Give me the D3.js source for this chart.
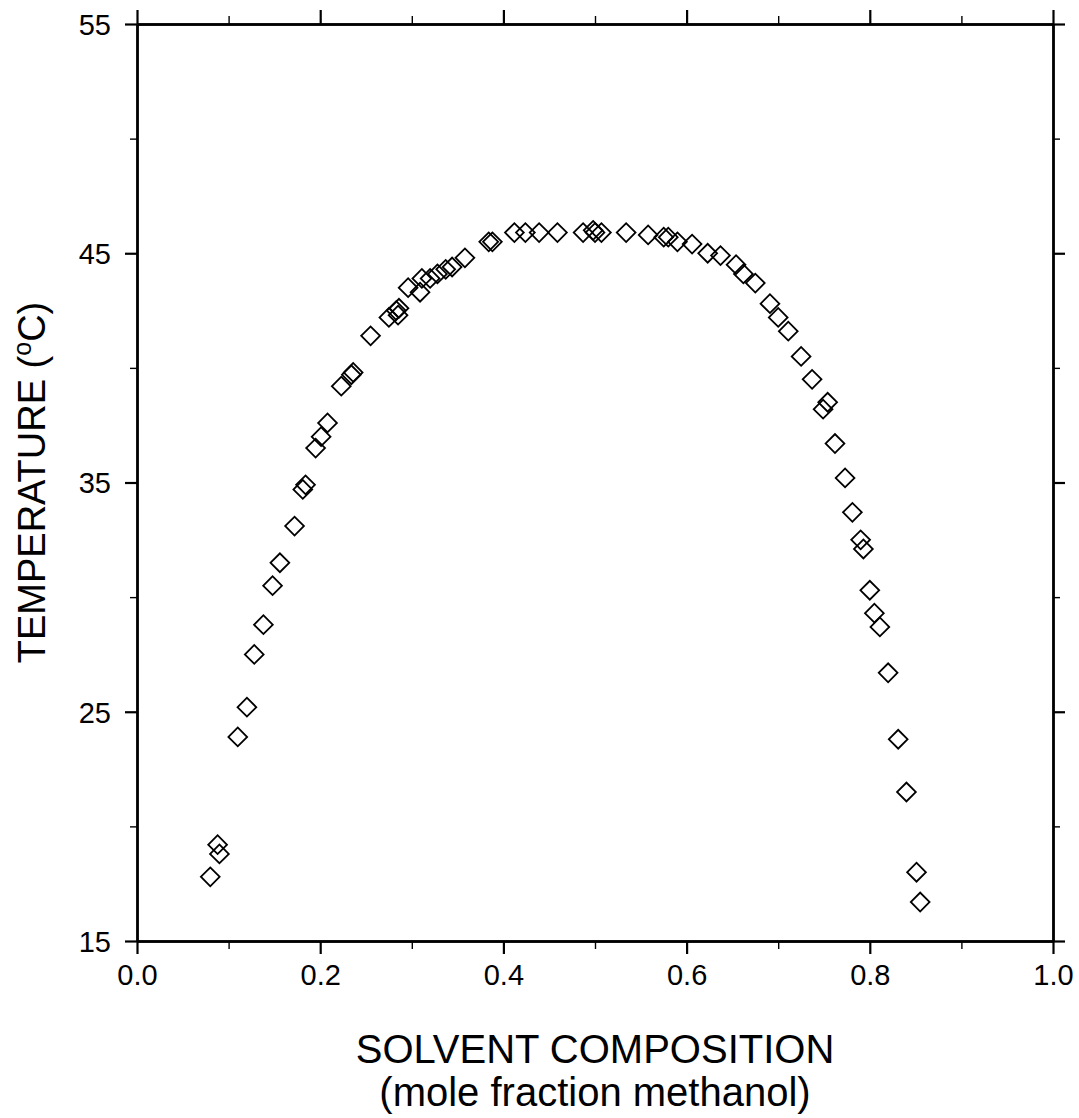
<!DOCTYPE html>
<html>
<head>
<meta charset="utf-8">
<script src="https://cdn.jsdelivr.net/npm/d3@7"></script>
<style>
  body { margin: 0; background: #fff; }
  svg text { font-family: "Liberation Sans", Arial, sans-serif; fill: #000; }
</style>
</head>
<body>
<div id="chart"></div>
<script>
// mole fraction methanol / cloud point temperature
const molFrac = [
  0.080, 0.088, 0.090, 0.110, 0.120, 0.128, 0.138, 0.148, 0.156, 0.172,
  0.181, 0.184, 0.195, 0.201, 0.208, 0.223, 0.234, 0.236, 0.255, 0.275,
  0.283, 0.285, 0.286, 0.296, 0.309, 0.311, 0.320, 0.328, 0.337, 0.344,
  0.358, 0.384, 0.388, 0.412, 0.424, 0.439, 0.459, 0.487, 0.498, 0.500,
  0.507, 0.534, 0.558, 0.575, 0.580, 0.590, 0.606, 0.623, 0.637, 0.654,
  0.662, 0.675, 0.691, 0.700, 0.711, 0.725, 0.737, 0.749, 0.754, 0.762,
  0.773, 0.781, 0.790, 0.793, 0.800, 0.805, 0.811, 0.820, 0.831, 0.840,
  0.851, 0.855
];
const tempC = [
  17.8, 19.2, 18.8, 23.9, 25.2, 27.5, 28.8, 30.5, 31.5, 33.1,
  34.7, 34.9, 36.5, 37.0, 37.6, 39.2, 39.7, 39.8, 41.4, 42.2,
  42.5, 42.3, 42.6, 43.5, 43.3, 43.9, 43.9, 44.1, 44.3, 44.4,
  44.8, 45.5, 45.5, 45.9, 45.9, 45.9, 45.9, 45.9, 46.0, 45.9,
  45.9, 45.9, 45.8, 45.7, 45.7, 45.5, 45.4, 45.0, 44.9, 44.5,
  44.1, 43.7, 42.8, 42.2, 41.6, 40.5, 39.5, 38.2, 38.5, 36.7,
  35.2, 33.7, 32.5, 32.1, 30.3, 29.3, 28.7, 26.7, 23.8, 21.5,
  18.0, 16.7
];
const xTicks = [0, 0.2, 0.4, 0.6, 0.8, 1.0];
const xMinor = [0.1, 0.3, 0.5, 0.7, 0.9];
const yTicks = [15, 25, 35, 45, 55];
const yMinor = [20, 30, 40, 50];

const width = 1079, height = 1118;
const plotL = 137, plotR = 1053, plotT = 24, plotB = 941;

const svg = d3.select("#chart").append("svg")
  .attr("width", width)
  .attr("height", height);

const x = d3.scaleLinear().domain([0, 1]).range([plotL, plotR]);
const y = d3.scaleLinear().domain([15, 55]).range([plotB, plotT]);

// axes on all four sides, ticks pointing out
const drawAxis = (axis, tx, ty, vals, size, cls) => {
  const g = svg.append("g")
    .attr("class", cls)
    .attr("transform", `translate(${tx},${ty})`)
    .call(axis.tickValues(vals).tickSize(size).tickSizeOuter(0));
  return g;
};

const bx = drawAxis(d3.axisBottom(x).tickFormat(d3.format(".1f")).tickPadding(10), 0, plotB, xTicks, 13, "bx");
drawAxis(d3.axisBottom(x).tickFormat(""), 0, plotB, xMinor, 8, "bxm");
drawAxis(d3.axisTop(x).tickFormat(""), 0, plotT, xTicks, 14, "tx");
drawAxis(d3.axisTop(x).tickFormat(""), 0, plotT, xMinor, 8, "txm");
const ly = drawAxis(d3.axisLeft(y).tickFormat(d3.format("d")).tickPadding(14), plotL, 0, yTicks, 12, "ly");
drawAxis(d3.axisLeft(y).tickFormat(""), plotL, 0, yMinor, 7, "lym");
drawAxis(d3.axisRight(y).tickFormat(""), plotR, 0, yTicks, 12, "ry");
drawAxis(d3.axisRight(y).tickFormat(""), plotR, 0, yMinor, 7, "rym");

svg.selectAll(".domain").attr("stroke", "#000").attr("stroke-width", 2.4);
svg.selectAll(".tick line").attr("stroke", "#000").attr("stroke-width", 2.2);
svg.selectAll(".bxm .tick line, .txm .tick line, .lym .tick line, .rym .tick line")
  .attr("stroke-width", 1.4);
bx.selectAll("text").attr("font-size", 29).attr("font-family", "Liberation Sans, Arial, sans-serif");
ly.selectAll("text").attr("font-size", 29).attr("dy", "0.36em").attr("font-family", "Liberation Sans, Arial, sans-serif");

// diamonds
const diamond = d3.symbol().type(d3.symbolSquare).size(176);
svg.append("g")
  .selectAll("path")
  .data(molFrac.map((d, i) => [d, tempC[i]]))
  .join("path")
  .attr("d", diamond)
  .attr("transform", d => `translate(${x(d[0])},${y(d[1])}) rotate(45)`)
  .attr("fill", "none")
  .attr("stroke", "#000")
  .attr("stroke-width", 1.8);

// axis titles
svg.append("text")
  .attr("x", (plotL + plotR) / 2)
  .attr("y", 1063)
  .attr("text-anchor", "middle")
  .attr("font-size", 40)
  .text("SOLVENT COMPOSITION");
svg.append("text")
  .attr("x", (plotL + plotR) / 2)
  .attr("y", 1106)
  .attr("text-anchor", "middle")
  .attr("font-size", 40)
  .text("(mole fraction methanol)");

const yt = svg.append("text")
  .attr("transform", `translate(45,${(plotT + plotB) / 2}) rotate(-90)`)
  .attr("text-anchor", "middle")
  .attr("font-size", 38);
yt.append("tspan").text("TEMPERATURE (");
yt.append("tspan").attr("font-size", 25).attr("dy", -14).text("o");
yt.append("tspan").attr("dy", 14).text("C)");
</script>
</body>
</html>
